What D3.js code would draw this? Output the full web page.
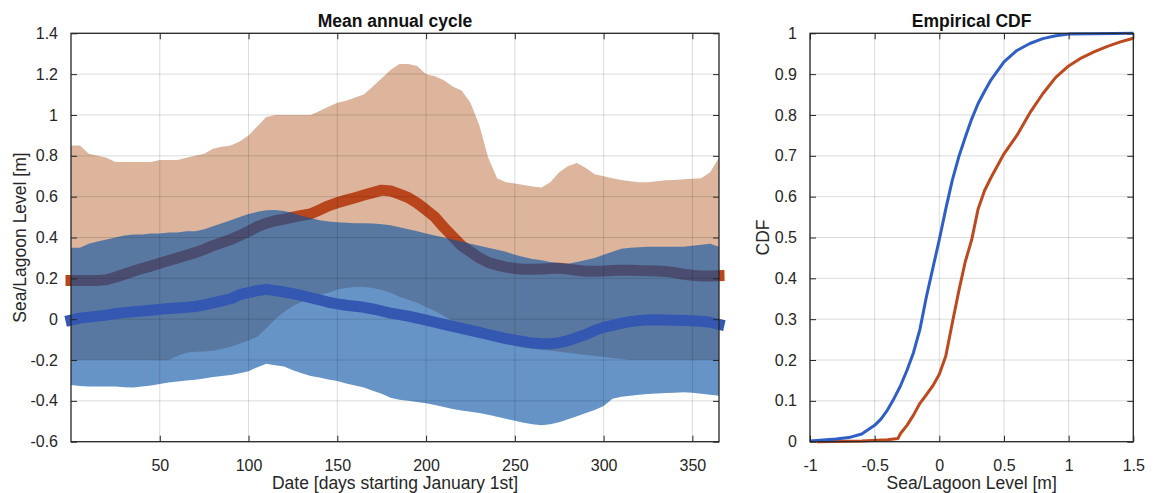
<!DOCTYPE html>
<html>
<head>
<meta charset="utf-8">
<script src="https://cdn.jsdelivr.net/npm/d3@7"></script>
<style>
  html, body { margin: 0; padding: 0; background: #fff; }
  svg { display: block; font-family: "Liberation Sans", Arial, sans-serif; }
</style>
</head>
<body>
<svg id="fig" width="1153" height="493"></svg>
<script>
// ---- Mean annual cycle (day of year, 5-day steps) ----
const days = d3.range(0, 366, 5);

// Lagoon level envelope and mean [m]
const lagoonUpper = [0.85,0.85,0.81,0.80,0.79,0.77,0.77,0.77,0.77,0.77,0.78,0.78,0.78,0.79,0.80,0.81,0.835,0.845,0.85,0.87,
  0.90,0.945,0.99,1.0,1.0,1.0,1.0,1.0,1.02,1.04,1.06,1.07,1.085,1.10,1.14,1.18,1.22,1.25,1.25,1.24,
  1.20,1.19,1.17,1.14,1.12,1.06,0.95,0.79,0.69,0.67,0.665,0.657,0.65,0.645,0.67,0.72,0.75,0.765,0.74,0.71,
  0.70,0.69,0.682,0.675,0.67,0.67,0.675,0.68,0.682,0.685,0.688,0.69,0.72,0.79];
const lagoonLower = [-0.2,-0.2,-0.2,-0.2,-0.2,-0.2,-0.2,-0.2,-0.2,-0.2,-0.2,-0.2,-0.18,-0.165,-0.16,-0.158,-0.155,-0.145,-0.135,-0.12,
  -0.105,-0.086,-0.045,0.0,0.035,0.065,0.085,0.10,0.12,0.13,0.145,0.153,0.158,0.158,0.153,0.143,0.13,0.11,0.095,0.08,
  0.06,0.04,0.015,-0.01,-0.035,-0.055,-0.075,-0.095,-0.11,-0.12,-0.13,-0.14,-0.145,-0.15,-0.155,-0.16,-0.165,-0.17,-0.175,-0.18,
  -0.185,-0.19,-0.195,-0.2,-0.2,-0.2,-0.2,-0.2,-0.2,-0.2,-0.2,-0.2,-0.2,-0.2];
const lagoonMean = [0.19,0.19,0.19,0.19,0.193,0.205,0.22,0.235,0.248,0.26,0.274,0.287,0.30,0.313,0.326,0.342,0.36,0.375,0.39,0.41,
  0.43,0.453,0.47,0.482,0.49,0.50,0.508,0.516,0.535,0.555,0.57,0.583,0.595,0.608,0.62,0.632,0.628,0.612,0.595,0.568,
  0.535,0.50,0.45,0.405,0.36,0.33,0.30,0.278,0.265,0.255,0.248,0.245,0.244,0.246,0.248,0.25,0.245,0.24,0.235,0.235,
  0.236,0.238,0.24,0.24,0.238,0.237,0.236,0.234,0.228,0.22,0.215,0.212,0.212,0.213];

// Sea level envelope and mean [m]
const seaUpper = [0.35,0.35,0.37,0.38,0.39,0.40,0.41,0.415,0.415,0.42,0.42,0.425,0.425,0.43,0.43,0.44,0.455,0.47,0.485,0.50,
  0.515,0.526,0.533,0.535,0.53,0.52,0.505,0.495,0.485,0.478,0.475,0.472,0.47,0.47,0.468,0.465,0.46,0.45,0.44,0.43,
  0.42,0.41,0.40,0.39,0.38,0.37,0.36,0.35,0.34,0.33,0.315,0.305,0.295,0.288,0.28,0.275,0.272,0.28,0.29,0.30,
  0.315,0.33,0.345,0.35,0.352,0.355,0.355,0.355,0.355,0.355,0.36,0.365,0.37,0.355];
const seaLower = [-0.322,-0.327,-0.33,-0.33,-0.33,-0.33,-0.333,-0.334,-0.33,-0.325,-0.317,-0.31,-0.305,-0.30,-0.297,-0.29,-0.283,-0.278,-0.273,-0.265,
  -0.255,-0.235,-0.218,-0.225,-0.232,-0.25,-0.265,-0.278,-0.285,-0.295,-0.303,-0.315,-0.325,-0.335,-0.35,-0.365,-0.385,-0.395,-0.40,-0.405,
  -0.412,-0.42,-0.43,-0.44,-0.447,-0.453,-0.46,-0.468,-0.478,-0.488,-0.498,-0.507,-0.515,-0.52,-0.515,-0.505,-0.49,-0.475,-0.46,-0.445,
  -0.425,-0.39,-0.38,-0.375,-0.37,-0.367,-0.364,-0.362,-0.36,-0.358,-0.36,-0.365,-0.37,-0.375];
const seaMean = [-0.005,0.005,0.01,0.015,0.02,0.027,0.032,0.036,0.04,0.044,0.048,0.052,0.055,0.058,0.062,0.07,0.08,0.09,0.10,0.12,
  0.13,0.14,0.146,0.14,0.133,0.125,0.115,0.105,0.095,0.083,0.075,0.068,0.063,0.058,0.05,0.04,0.03,0.022,0.015,0.005,
  -0.005,-0.015,-0.025,-0.035,-0.045,-0.055,-0.065,-0.075,-0.085,-0.095,-0.103,-0.11,-0.117,-0.12,-0.12,-0.115,-0.105,-0.09,-0.075,-0.055,
  -0.04,-0.03,-0.02,-0.012,-0.007,-0.004,-0.003,-0.004,-0.005,-0.006,-0.008,-0.01,-0.015,-0.025];

const dayTicks = [50, 100, 150, 200, 250, 300, 350];
const levelTicks = [-0.6, -0.4, -0.2, 0, 0.2, 0.4, 0.6, 0.8, 1, 1.2, 1.4];

// ---- Empirical CDF ----
const seaCdfLevels = [-1,-0.9,-0.8,-0.7,-0.6,-0.5,-0.45,-0.4,-0.35,-0.3,-0.25,-0.2,-0.15,-0.1,-0.05,0,0.05,0.1,0.15,0.2,0.25,0.3,0.35,0.4,0.5,0.6,0.7,0.8,0.9,1.0,1.2,1.5];
const seaCdf = [0.002,0.004,0.0066,0.01,0.019,0.04,0.056,0.078,0.106,0.137,0.175,0.218,0.275,0.355,0.425,0.495,0.57,0.64,0.697,0.745,0.79,0.828,0.858,0.886,0.93,0.958,0.975,0.987,0.994,0.998,0.999,1.0];
const lagoonCdfLevels = [-0.95,-0.6,-0.4,-0.32,-0.3,-0.25,-0.2,-0.15,-0.1,-0.05,0,0.05,0.1,0.15,0.2,0.25,0.3,0.35,0.4,0.5,0.6,0.7,0.8,0.9,1.0,1.1,1.2,1.3,1.4,1.5];
const lagoonCdf = [0,0.002,0.005,0.008,0.02,0.04,0.065,0.094,0.115,0.137,0.165,0.21,0.29,0.368,0.44,0.494,0.57,0.615,0.647,0.705,0.75,0.805,0.852,0.892,0.92,0.94,0.955,0.968,0.979,0.988];

const cdfLevelTicks = [-1, -0.5, 0, 0.5, 1, 1.5];
const probTicks = d3.range(0, 11).map(i => i / 10);

// ---- styling ----
const C = {
  peach: "#dcb59c",
  lagoonLine: "#b8451b",
  seaBand: "rgb(8,82,164)",
  seaBandOpacity: 0.62,
  seaLine: "#3457b2",
  cdfSea: "#2f5fc6",
  cdfLagoon: "#bd4a1f",
  axis: "#262626",
  grid: "rgba(0,0,0,0.14)"
};
const fmt = v => String(+v.toFixed(2));

const svg = d3.select("#fig");

function frame(g, x, y, xt, yt) {
  const [x0, x1] = x.range();
  const [y0, y1] = y.range(); // y0 bottom, y1 top
  const grid = g.append("g").attr("class", "grid");
  grid.selectAll("line.v").data(xt).join("line")
    .attr("x1", d => x(d)).attr("x2", d => x(d)).attr("y1", y0).attr("y2", y1)
    .attr("stroke", C.grid).attr("stroke-width", 1);
  grid.selectAll("line.h").data(yt).join("line")
    .attr("y1", d => y(d)).attr("y2", d => y(d)).attr("x1", x0).attr("x2", x1)
    .attr("stroke", C.grid).attr("stroke-width", 1);
  return grid;
}

function axes(g, x, y, xt, yt) {
  const [x0, x1] = x.range();
  const [y0, y1] = y.range();
  const tl = 6;
  // inward ticks on all four sides, labels on bottom and left
  g.append("g").attr("transform", `translate(0,${y0})`)
    .call(d3.axisBottom(x).tickValues(xt).tickSize(-tl).tickPadding(tl + 12).tickFormat(fmt))
    .call(s => s.select(".domain").remove());
  g.append("g").attr("transform", `translate(0,${y1})`)
    .call(d3.axisTop(x).tickValues(xt).tickSize(-tl).tickFormat(""))
    .call(s => s.select(".domain").remove());
  g.append("g").attr("transform", `translate(${x0},0)`)
    .call(d3.axisLeft(y).tickValues(yt).tickSize(-tl).tickPadding(tl + 7).tickFormat(fmt))
    .call(s => s.select(".domain").remove());
  g.append("g").attr("transform", `translate(${x1},0)`)
    .call(d3.axisRight(y).tickValues(yt).tickSize(-tl).tickFormat(""))
    .call(s => s.select(".domain").remove());
  g.selectAll(".tick line").attr("stroke", C.axis).attr("stroke-width", 1);
  g.selectAll(".tick text").attr("fill", C.axis).attr("font-size", 16)
    .attr("font-family", "Liberation Sans, Arial, sans-serif");
  g.append("rect").attr("x", x0).attr("y", y1).attr("width", x1 - x0).attr("height", y0 - y1)
    .attr("fill", "none").attr("stroke", C.axis).attr("stroke-width", 1.3);
}

// ===== Left panel: mean annual cycle =====
const L = { left: 71, right: 719, top: 33.3, bottom: 441.7 };
const xDay = d3.scaleLinear().domain([0, 365]).range([L.left, L.right]);
const yLev = d3.scaleLinear().domain([-0.6, 1.4]).range([L.bottom, L.top]);
const gL = svg.append("g");

const rows = days.map((d, i) => ({
  day: Math.min(d, 365),
  lu: lagoonUpper[i], ll: lagoonLower[i], lm: lagoonMean[i],
  su: seaUpper[i], sl: seaLower[i], sm: seaMean[i]
}));

const band = (lo, hi) => d3.area().x(r => xDay(r.day)).y0(r => yLev(r[lo])).y1(r => yLev(r[hi]));
const mean = key => d3.line().x(r => xDay(r.day)).y(r => yLev(r[key]));

gL.append("path").datum(rows).attr("d", band("ll", "lu")).attr("fill", C.peach);
gL.append("path").datum(rows).attr("d", mean("lm"))
  .attr("fill", "none").attr("stroke", C.lagoonLine).attr("stroke-width", 11)
  .attr("stroke-linecap", "square").attr("stroke-linejoin", "round");
gL.append("path").datum(rows).attr("d", band("sl", "su"))
  .attr("fill", C.seaBand).attr("fill-opacity", C.seaBandOpacity);
frame(gL, xDay, yLev, dayTicks, levelTicks);
gL.append("path").datum(rows).attr("d", mean("sm"))
  .attr("fill", "none").attr("stroke", C.seaLine).attr("stroke-width", 11)
  .attr("stroke-linecap", "square").attr("stroke-linejoin", "round");
axes(gL, xDay, yLev, dayTicks, levelTicks);

gL.append("text").attr("x", (L.left + L.right) / 2).attr("y", 26.5)
  .attr("text-anchor", "middle").attr("font-weight", "bold").attr("font-size", 17.5)
  .attr("fill", "#111").text("Mean annual cycle");
gL.append("text").attr("x", (L.left + L.right) / 2).attr("y", 489)
  .attr("text-anchor", "middle").attr("font-size", 17.5).attr("fill", C.axis)
  .text("Date [days starting January 1st]");
gL.append("text").attr("transform", `translate(26,${(L.top + L.bottom) / 2}) rotate(-90)`)
  .attr("text-anchor", "middle").attr("font-size", 17.5).attr("fill", C.axis)
  .text("Sea/Lagoon Level [m]");

// ===== Right panel: empirical CDF =====
const R = { left: 810, right: 1133.3, top: 33.3, bottom: 441.7 };
const xCdf = d3.scaleLinear().domain([-1, 1.5]).range([R.left, R.right]);
const yCdf = d3.scaleLinear().domain([0, 1]).range([R.bottom, R.top]);
const gR = svg.append("g");
frame(gR, xCdf, yCdf, cdfLevelTicks, probTicks);

const cdfLine = d3.line().x(p => xCdf(p[0])).y(p => yCdf(p[1]));
gR.append("path").datum(d3.zip(lagoonCdfLevels, lagoonCdf)).attr("d", cdfLine)
  .attr("fill", "none").attr("stroke", C.cdfLagoon).attr("stroke-width", 3).attr("stroke-linejoin", "round");
gR.append("path").datum(d3.zip(seaCdfLevels, seaCdf)).attr("d", cdfLine)
  .attr("fill", "none").attr("stroke", C.cdfSea).attr("stroke-width", 3).attr("stroke-linejoin", "round");
axes(gR, xCdf, yCdf, cdfLevelTicks, probTicks);

gR.append("text").attr("x", (R.left + R.right) / 2).attr("y", 26.5)
  .attr("text-anchor", "middle").attr("font-weight", "bold").attr("font-size", 17.5)
  .attr("fill", "#111").text("Empirical CDF");
gR.append("text").attr("x", (R.left + R.right) / 2).attr("y", 489)
  .attr("text-anchor", "middle").attr("font-size", 17.5).attr("fill", C.axis)
  .text("Sea/Lagoon Level [m]");
gR.append("text").attr("transform", `translate(768.5,${(R.top + R.bottom) / 2}) rotate(-90)`)
  .attr("text-anchor", "middle").attr("font-size", 17.5).attr("fill", C.axis)
  .text("CDF");
</script>
</body>
</html>
